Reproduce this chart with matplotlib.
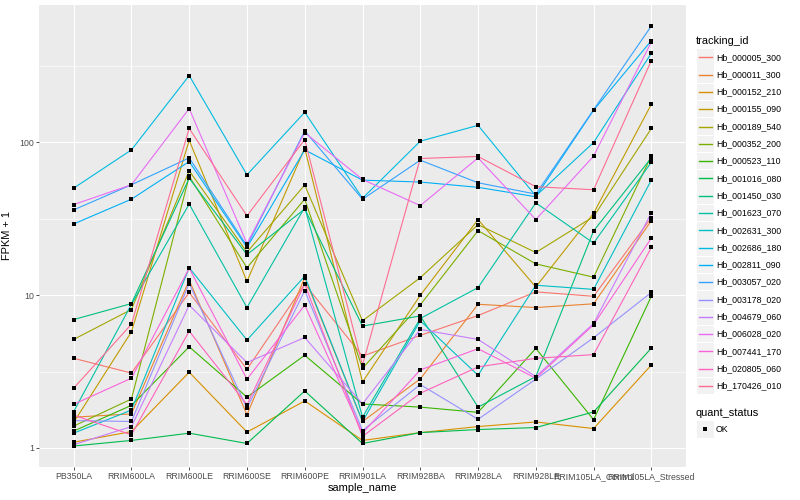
import matplotlib
matplotlib.use("Agg")
import matplotlib.pyplot as plt
from matplotlib.patches import Rectangle
from matplotlib.lines import Line2D
import numpy as np

plt.rcParams['font.family'] = ['Liberation Sans', 'DejaVu Sans']

samples = ["PB350LA", "RRIM600LA", "RRIM600LE", "RRIM600SE", "RRIM600PE", "RRIM901LA",
           "RRIM928BA", "RRIM928LA", "RRIM928LE", "RRIM105LA_Control", "RRIM105LA_Stressed"]

tracking_ids = ["Hb_000005_300", "Hb_000011_300", "Hb_000152_210", "Hb_000155_090",
                "Hb_000189_540", "Hb_000352_200", "Hb_000523_110", "Hb_001016_080",
                "Hb_001450_030", "Hb_001623_070", "Hb_002631_300", "Hb_002686_180",
                "Hb_002811_090", "Hb_003057_020", "Hb_003178_020", "Hb_004679_060",
                "Hb_006028_020", "Hb_007441_170", "Hb_020805_060", "Hb_170426_010"]

colors = ["#F8766D", "#EA8331", "#D89000", "#C09B00", "#A3A500", "#7CAE00", "#39B600",
          "#00BB4E", "#00BF7D", "#00C1A3", "#00BFC4", "#00BAE0", "#00B0F6", "#35A2FF",
          "#9590FF", "#C77CFF", "#E76BF3", "#FA62DB", "#FF62BC", "#FF6C91"]

# FPKM + 1 per sample
Hb_000005_300 = [3.86, 3.09, 10.4, 3.27, 11.8, 3.99, 5.45, 7.35, 10.5, 9.82, 32.1]
Hb_000011_300 = [1.59, 1.67, 12.5, 1.65, 13.0, 1.49, 2.83, 8.71, 8.29, 8.77, 30.7]
Hb_000152_210 = [1.09, 1.28, 3.13, 1.27, 2.03, 1.12, 1.26, 1.38, 1.48, 1.34, 3.49]
Hb_000155_090 = [1.47, 5.75, 103, 12.3, 91.4, 2.70, 9.97, 31.2, 11.3, 34.3, 177]
Hb_000189_540 = [5.13, 8.05, 65.0, 19.1, 52.5, 6.79, 13.0, 28.9, 19.0, 32.6, 123]
Hb_000352_200 = [1.39, 2.09, 59.8, 15.1, 42.4, 3.32, 8.63, 26.4, 16.0, 13.1, 81.4]
Hb_000523_110 = [1.29, 1.90, 4.59, 2.15, 4.04, 1.94, 1.85, 1.71, 4.48, 1.53, 9.82]
Hb_001016_080 = [1.03, 1.12, 1.25, 1.07, 2.36, 1.07, 1.26, 1.32, 1.36, 1.72, 4.50]
Hb_001450_030 = [6.92, 8.80, 58.2, 18.4, 36.6, 6.27, 7.31, 1.85, 2.93, 26.3, 79.0]
Hb_001623_070 = [1.73, 8.70, 39.4, 8.29, 37.5, 1.59, 7.03, 11.2, 40.1, 21.9, 74.0]
Hb_002631_300 = [1.25, 1.77, 15.1, 5.08, 13.3, 1.49, 6.79, 2.99, 11.6, 10.9, 56.6]
Hb_002686_180 = [50.1, 89.1, 273, 61.2, 157, 43.0, 101.6, 129, 44.5, 99.6, 382]
Hb_002811_090 = [29.2, 42.4, 74.8, 20.5, 89.1, 56.5, 54.9, 50.7, 44.0, 162, 462]
Hb_003057_020 = [36.1, 52.7, 79.0, 21.0, 118.6, 42.4, 76.3, 54.3, 45.8, 163, 576]
Hb_003178_020 = [1.51, 1.49, 11.9, 1.82, 10.7, 1.30, 2.60, 1.54, 2.82, 5.26, 10.4]
Hb_004679_060 = [1.05, 1.38, 8.59, 3.62, 5.28, 1.94, 5.96, 5.13, 2.93, 6.52, 34.5]
Hb_006028_020 = [39.1, 52.7, 166, 21.7, 115.6, 57.1, 38.5, 79.0, 31.2, 81.1, 453]
Hb_007441_170 = [1.93, 2.86, 15.0, 2.82, 8.59, 1.25, 3.24, 4.46, 2.86, 6.40, 23.6]
Hb_020805_060 = [1.64, 1.22, 5.81, 1.92, 11.8, 1.19, 2.28, 3.39, 3.86, 4.08, 20.5]
Hb_170426_010 = [2.46, 6.45, 123, 33.0, 104, 3.49, 78.3, 80.7, 51.2, 48.9, 342]

series = [Hb_000005_300, Hb_000011_300, Hb_000152_210, Hb_000155_090, Hb_000189_540,
          Hb_000352_200, Hb_000523_110, Hb_001016_080, Hb_001450_030, Hb_001623_070,
          Hb_002631_300, Hb_002686_180, Hb_002811_090, Hb_003057_020, Hb_003178_020,
          Hb_004679_060, Hb_006028_020, Hb_007441_170, Hb_020805_060, Hb_170426_010]

y_ticks = [1, 10, 100]
y_tick_labels = ["1", "10", "100"]
quant_status = ["OK"]

W, H = 800, 500
fig = plt.figure(figsize=(W / 100, H / 100), dpi=100)
fig.patch.set_facecolor("white")

def fx(px):
    return px / W

def fy(py):
    return 1 - py / H

left, right, top, bottom = 39, 686, 5, 467
ax = fig.add_axes([fx(left), fy(bottom), fx(right) - fx(left), fy(top) - fy(bottom)])
ax.set_facecolor("#EBEBEB")
for s in ax.spines.values():
    s.set_visible(False)

x = np.arange(len(samples))
ax.set_yscale("log")
all_vals = np.concatenate([np.array(s) for s in series])
lo, hi = np.log10(all_vals.min()), np.log10(all_vals.max())
pad = 0.05 * (hi - lo)
ax.set_ylim(10 ** (lo - pad), 10 ** (hi + pad))
ax.set_xlim(-0.6, len(samples) - 1 + 0.6)

# grid
for v in [10 ** 0.5, 10 ** 1.5, 10 ** 2.5]:
    ax.axhline(v, color="white", lw=0.4, zorder=0.5)
for v in y_ticks:
    ax.axhline(v, color="white", lw=0.8, zorder=0.6)
for xi in x:
    ax.axvline(xi, color="white", lw=0.8, zorder=0.6)

for vals, c in zip(series, colors):
    ax.plot(x, vals, color=c, lw=0.8, zorder=2, solid_capstyle="butt")
for vals in series:
    ax.plot(x, vals, ls="none", marker="s", ms=2.6, color="black", mec="black", mew=0, zorder=3)

ax.set_yticks(y_ticks)
ax.set_yticklabels(y_tick_labels)
ax.yaxis.set_minor_locator(matplotlib.ticker.NullLocator())
ax.set_xticks(x)
ax.set_xticklabels(samples)
ax.tick_params(axis="both", colors="#333333", labelcolor="#4D4D4D", labelsize=6.3,
               length=2.0, width=0.6, pad=1.5)
ax.set_xlabel("sample_name", fontsize=7.9, color="black", labelpad=1.5)
ax.set_ylabel("FPKM + 1", fontsize=7.9, color="black", labelpad=5)

# legend (manual, ggplot style)
fig.text(fx(696), fy(40.5), "tracking_id", fontsize=7.9, va="center", ha="left")
key_w, key_h = 16.5, 16.5
y0, step = 57.3, 17.3
for i, (tid, c) in enumerate(zip(tracking_ids, colors)):
    yc = y0 + i * step
    fig.add_artist(Rectangle((fx(697), fy(yc + key_h / 2)), key_w / W, key_h / H,
                             transform=fig.transFigure, facecolor="#F2F2F2",
                             edgecolor="none", zorder=1))
    fig.add_artist(Line2D([fx(698.5), fx(712)], [fy(yc), fy(yc)], color=c, lw=1.0,
                          transform=fig.transFigure, zorder=5))
    fig.text(fx(716.5), fy(yc), tid, fontsize=6.3, va="center", ha="left")

fig.text(fx(696), fy(412.7), "quant_status", fontsize=7.9, va="center", ha="left")
yc = 429.3
fig.add_artist(Rectangle((fx(697), fy(yc + key_h / 2)), key_w / W, key_h / H,
                         transform=fig.transFigure, facecolor="#F2F2F2", edgecolor="none",
                         zorder=1))
fig.add_artist(Line2D([fx(705.2)], [fy(yc)], marker="s", ms=2.6, color="black", mew=0,
                      ls="none", transform=fig.transFigure, zorder=5))
fig.text(fx(716), fy(yc), quant_status[0], fontsize=6.3, va="center", ha="left")

fig.savefig("out.png", dpi=100)
